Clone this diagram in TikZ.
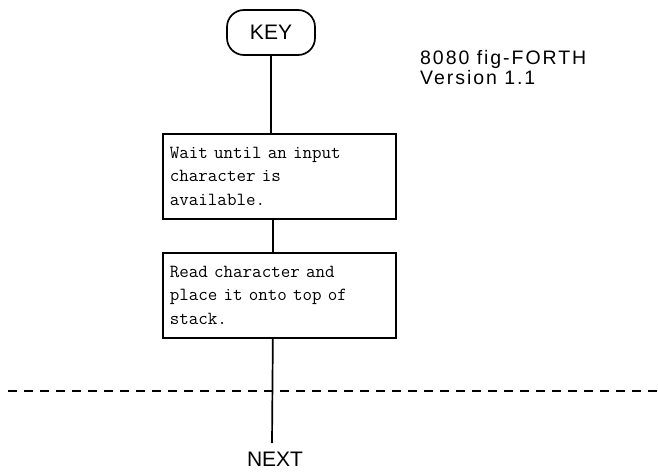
\documentclass[tikz,border=0pt]{standalone}
\usepackage{fontspec}
\setmainfont{Liberation Sans}
\begin{document}
\begin{tikzpicture}[x=1pt,y=-1pt,
  flow/.style={line width=1.7pt},
  divider/.style={line width=1.5pt, dash pattern=on 9pt off 7pt},
  procbox/.style={draw, line width=1.7pt, anchor=north west, minimum width=233pt, minimum height=85pt,
    text width=219pt, inner xsep=7pt, inner ysep=0pt, align=left,
    font=\fontsize{18.5}{23.5}\selectfont\ttfamily},
  term/.style={draw, line width=1.7pt, rounded corners=17pt, minimum width=88pt, minimum height=45pt,
    font=\fontsize{21}{24}\selectfont},
  plain/.style={inner sep=0pt, font=\fontsize{21}{24}\selectfont}]
\useasboundingbox (0,0) rectangle (658,471);
\node[term] (key) at (271,32.5) {KEY};
\node[procbox] (wait) at (162,133) {Wait until an input\\character is\\available.};
\node[procbox] (read) at (162,252) {Read character and\\place it onto top of\\stack.};
\node[plain, anchor=base] (next) at (275,466) {NEXT};
\node[inner sep=0pt, anchor=base west, align=left,
  font=\fontsize{19.5}{20}\selectfont\addfontfeatures{LetterSpace=10}] (ver) at (420,84) {8080 fig-FORTH\\Version 1.1};
\coordinate (dl) at (8,391);
\coordinate (dr) at (658,391);
\coordinate (nexttop) at (272,443);
\draw[flow] (key.south) -- (key.south |- wait.north);
\draw[flow] ([xshift=-6.5pt]wait.south) -- ([xshift=-6.5pt]wait.south |- read.north);
\draw[flow] ([xshift=-6.5pt]read.south) -- (nexttop);
\draw[divider] (dl) -- (dr);
\end{tikzpicture}
\end{document}
